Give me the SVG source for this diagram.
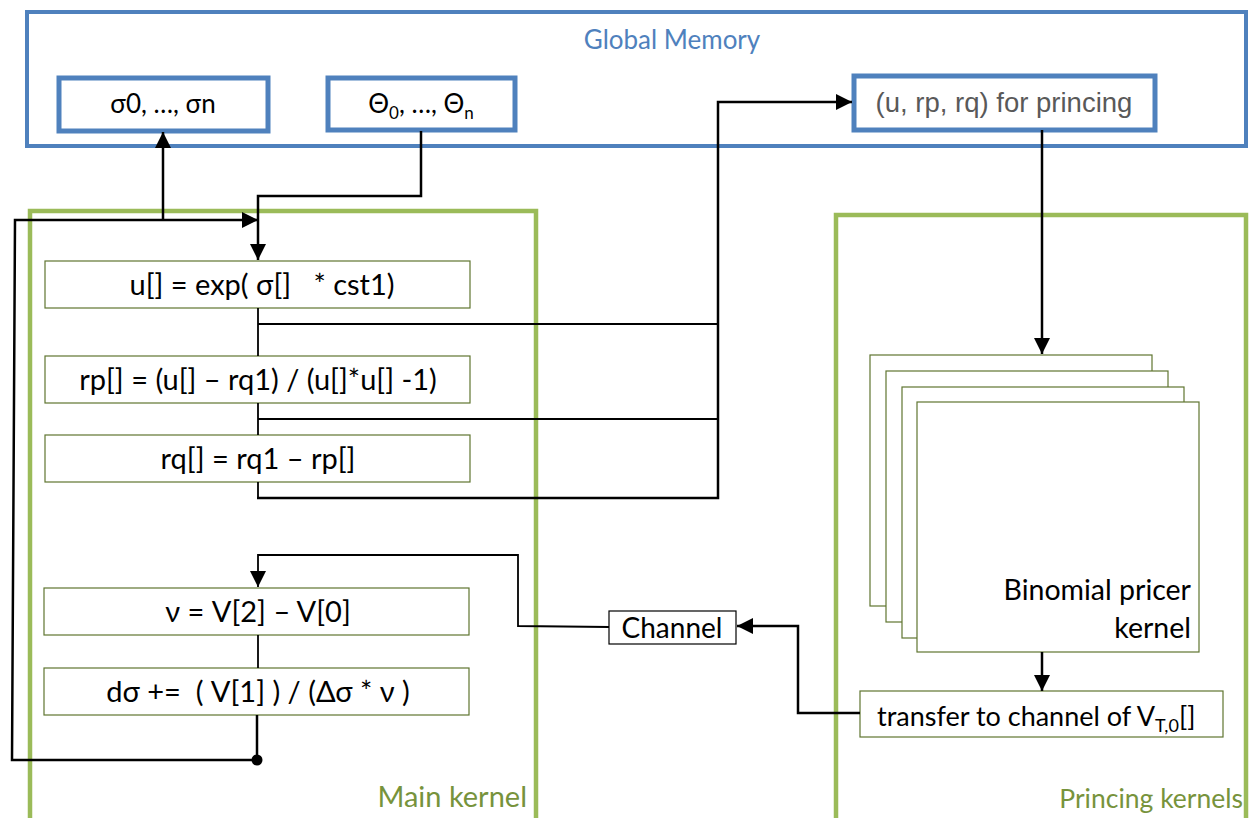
<svg xmlns="http://www.w3.org/2000/svg" width="1249" height="818" viewBox="0 0 1249 818">
<defs>
<marker id="ah" markerUnits="userSpaceOnUse" markerWidth="18" markerHeight="16" refX="16" refY="8" orient="auto">
<path d="M0,0 L16,8 L0,16 Z" fill="#000"/>
</marker>
</defs>
<style>
.mem{fill:#fff;stroke:#4F81BD;stroke-width:5}
.cont{fill:none;stroke:#9BBB59;stroke-width:4.5}
.proc{fill:#fff;stroke:#5F7530;stroke-width:1.2}
.t{font-family:Lato,"Liberation Sans",sans-serif;fill:#000;text-anchor:middle;white-space:pre}
.b{font-size:29px}
.c{fill:none;stroke:#000;stroke-width:2.5}
.thin{fill:none;stroke:#000;stroke-width:1.8}
</style>
<rect width="1249" height="818" fill="#fff"/>
<g id="global-memory">
<rect x="27" y="12" width="1219" height="134" fill="#fff" stroke="#4F81BD" stroke-width="4"/>
<text class="t" x="672" y="49" style="font-size:26px;fill:#4F81BD">Global Memory</text>
</g>
<g id="sigma-box">
<rect class="mem" x="59" y="78" width="209" height="53"/>
<text class="t" x="163" y="113" style="font-size:26px">σ0, …, σn</text>
</g>
<g id="theta-box">
<rect class="mem" x="328" y="78" width="187" height="52"/>
<text class="t" x="421" y="113" style="font-size:26px">Θ<tspan dy="6" style="font-size:17px">0</tspan><tspan dy="-6">, …, Θ</tspan><tspan dy="6" style="font-size:17px">n</tspan></text>
</g>
<g id="pricing-input">
<rect class="mem" x="854" y="76" width="301" height="54"/>
<text x="1004" y="112" style="font-family:'Liberation Sans',Arial,sans-serif;font-size:27.5px;fill:#595959;text-anchor:middle">(u, rp, rq) for princing</text>
</g>
<g id="main-kernel">
<rect class="cont" x="30" y="211" width="506" height="640"/>
<text x="527" y="807" style="font-family:Lato,'Liberation Sans',sans-serif;font-size:29px;fill:#77933C;text-anchor:end">Main kernel</text>
</g>
<g id="pricing-kernels">
<rect class="cont" x="836" y="215" width="410" height="640"/>
<text x="1243" y="808" style="font-family:Lato,'Liberation Sans',sans-serif;font-size:26.5px;fill:#77933C;text-anchor:end">Princing kernels</text>
</g>
<g id="u-box">
<rect class="proc" x="45" y="261" width="425" height="47"/>
<text class="t b" x="262" y="295">u[] = exp( σ[]   * cst1)</text>
</g>
<g id="rp-box">
<rect class="proc" x="45" y="356" width="425" height="47"/>
<text class="t b" x="258" y="390">rp[] = (u[] – rq1) / (u[]*u[] -1)</text>
</g>
<g id="rq-box">
<rect class="proc" x="45" y="435" width="425" height="47"/>
<text class="t b" x="258" y="469">rq[] = rq1 – rp[]</text>
</g>
<g id="nu-box">
<rect class="proc" x="44" y="588" width="425" height="47"/>
<text class="t b" x="258" y="622">ν = V[2] – V[0]</text>
</g>
<g id="dsigma-box">
<rect class="proc" x="44" y="668" width="425" height="47"/>
<text class="t b" x="258" y="702">dσ +=  ( V[1] ) / (Δσ * ν )</text>
</g>
<g id="channel">
<rect x="609" y="611" width="127" height="33" fill="#fff" stroke="#000" stroke-width="1.2"/>
<text class="t" x="672" y="638" style="font-size:28px">Channel</text>
</g>
<g id="binomial-pricer">
<rect class="proc" x="870" y="355" width="282" height="251"/>
<rect class="proc" x="886" y="371" width="282" height="251"/>
<rect class="proc" x="902" y="387" width="282" height="251"/>
<rect class="proc" x="917" y="402" width="282" height="250"/>
<text x="1191" y="600" style="font-family:Lato,'Liberation Sans',sans-serif;font-size:28.5px;text-anchor:end">Binomial pricer</text>
<text x="1191" y="638" style="font-family:Lato,'Liberation Sans',sans-serif;font-size:28.5px;text-anchor:end">kernel</text>
</g>
<g id="transfer">
<rect class="proc" x="860" y="691" width="363" height="46"/>
<text x="877" y="726" style="font-family:Lato,'Liberation Sans',sans-serif;font-size:27px">transfer to channel of V<tspan dy="6" style="font-size:18px">T,0</tspan><tspan dy="-6">[]</tspan></text>
</g>
<g id="connectors">
<path class="c" d="M163,220 V132" marker-end="url(#ah)"/>
<path class="c" d="M257,760 H12 L15,220 H258" marker-end="url(#ah)"/>
<path class="c" d="M421,131 V196 H258 V260" marker-end="url(#ah)"/>
<path class="thin" d="M258,308 V356 M258,403 V435 M258,482 V498"/>
<path class="thin" d="M258,324 H718 M258,419 H718"/>
<path class="c" d="M257,498 H718 V102 H852" marker-end="url(#ah)"/>
<path class="c" d="M1042,130 V354" marker-end="url(#ah)"/>
<path class="c" d="M1042,652 V691" marker-end="url(#ah)"/>
<path class="c" d="M860,713 H798 V626 H737" marker-end="url(#ah)"/>
<path class="thin" d="M609,627 L518,626 V555 H258 V587" marker-end="url(#ah)"/>
<path class="thin" d="M258,635 V668"/>
<path class="c" d="M257,715 V760"/>
<circle cx="257" cy="760" r="5.5" fill="#000"/>
</g>
</svg>
